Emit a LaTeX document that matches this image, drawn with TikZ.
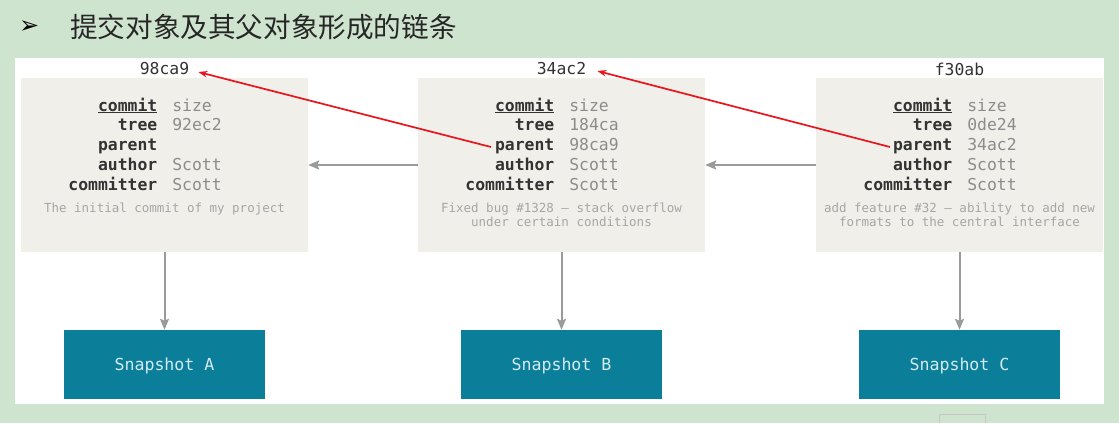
\documentclass[tikz,border=0pt]{standalone}
\usepackage{fontspec}
\setmonofont{DejaVu Sans Mono}
\newfontfamily\cjkfont{Noto Sans CJK SC}
\newfontfamily\symfont{DejaVu Sans}
\usetikzlibrary{arrows.meta,positioning}

\definecolor{slidegreen}{HTML}{CFE4CE}
\definecolor{commitfill}{HTML}{F0EFEA}
\definecolor{snapfill}{HTML}{0B7F99}
\definecolor{snaptext}{HTML}{D4EAF0}
\definecolor{arrowgray}{HTML}{9A9A9A}
\definecolor{fieldgray}{HTML}{8C8C8C}
\definecolor{msggray}{HTML}{A6A6A6}
\definecolor{labeldark}{HTML}{333333}
\definecolor{linkred}{HTML}{E8161C}

\tikzset{
  commitbox/.style={fill=commitfill,minimum width=287pt,minimum height=174pt,inner sep=0},
  snapbox/.style={fill=snapfill,text=snaptext,minimum width=201pt,minimum height=69pt,
    text depth=0pt,font=\ttfamily\fontsize{16.6}{20}\selectfont},
  hash/.style={text=labeldark,inner sep=0,font=\ttfamily\fontsize{16.4}{20}\selectfont},
  fields/.style={inner sep=0,font=\ttfamily\fontsize{16.4}{19.75}\selectfont},
  msg/.style={text=msggray,inner sep=0,align=center,font=\ttfamily\fontsize{12.5}{13.6}\selectfont},
  link/.style={draw=arrowgray,line width=2pt,-{Stealth[length=11pt,width=9pt,inset=2pt]}},
  parentlink/.style={draw=linkred,line width=1.7pt,-{Stealth[length=9pt,width=6.5pt]}}
}

\newcommand{\fld}[1]{\textbf{\textcolor{labeldark}{#1}}}
\newcommand{\val}[1]{\textcolor{fieldgray}{#1}}

\begin{document}
\begin{tikzpicture}[x=1pt,y=-1pt]
    \pgfmathsetmacro{\colA}{164.5}
    \pgfmathsetmacro{\colB}{561.5}
    \pgfmathsetmacro{\colC}{959.5}
    \pgfmathsetmacro{\boxmid}{165}
    \pgfmathsetmacro{\snapmid}{364.5}
    \pgfmathsetmacro{\fieldshift}{57.4}
    \fill[slidegreen] (0,0) rectangle (1119,423);
    \fill[white] (15,58) rectangle (1104,404);
    \draw[gray!45,line width=0.8pt] (939,423) -- (939,414) -- (985,414) -- (985,423);
    % heading
    \node[anchor=west,inner sep=0,text=black,font=\symfont\bfseries\fontsize{24}{26}\selectfont] (bullet) at (19,27) {➢};
    \node[anchor=west,inner sep=0,text=black!85,font=\cjkfont\fontsize{27.6}{30}\selectfont] (title) at (70,27) {提交对象及其父对象形成的链条};
    % commit objects
    \node[commitbox] (commitA) at (\colA,\boxmid) {};
    \node[commitbox] (commitB) at (\colB,\boxmid) {};
    \node[commitbox] (commitC) at (\colC,\boxmid) {};
    \node[hash] (hashA) at (\colA,69) {98ca9};
    \node[hash] (hashB) at (\colB,69) {34ac2};
    \node[hash] (hashC) at (\colC,69) {f30ab};
    \node[fields,anchor=north east] (fieldsA) at (\colA+\fieldshift,97) {%
      \begin{tabular}{@{}r@{\hspace{15pt}}l@{}}
        \fld{\underline{commit}} & \val{size}\\
        \fld{tree} & \val{92ec2}\\
        \fld{parent} & \val{\phantom{98ca9}}\\
        \fld{author} & \val{Scott}\\
        \fld{committer} & \val{Scott}
      \end{tabular}};
    \node[fields,anchor=north east] (fieldsB) at (\colB+\fieldshift,97) {%
      \begin{tabular}{@{}r@{\hspace{15pt}}l@{}}
        \fld{\underline{commit}} & \val{size}\\
        \fld{tree} & \val{184ca}\\
        \fld{parent} & \val{98ca9}\\
        \fld{author} & \val{Scott}\\
        \fld{committer} & \val{Scott}
      \end{tabular}};
    \node[fields,anchor=north east] (fieldsC) at (\colC+\fieldshift,97) {%
      \begin{tabular}{@{}r@{\hspace{15pt}}l@{}}
        \fld{\underline{commit}} & \val{size}\\
        \fld{tree} & \val{0de24}\\
        \fld{parent} & \val{34ac2}\\
        \fld{author} & \val{Scott}\\
        \fld{committer} & \val{Scott}
      \end{tabular}};
    \node[msg,anchor=north] (msgA) at (\colA,203) {The initial commit of my project};
    \node[msg,anchor=north] (msgB) at (\colB,203) {Fixed bug \#1328 – stack overflow\\under certain conditions};
    \node[msg,anchor=north] (msgC) at (\colC,203) {add feature \#32 – ability to add new\\formats to the central interface};
    % snapshots
    \node[snapbox] (snapA) at (\colA,\snapmid) {Snapshot A};
    \node[snapbox] (snapB) at (\colB,\snapmid) {Snapshot B};
    \node[snapbox] (snapC) at (\colC,\snapmid) {Snapshot C};
    \draw[link] (commitA) -- (snapA);
    \draw[link] (commitB) -- (snapB);
    \draw[link] (commitC) -- (snapC);
    \draw[link] (commitB) -- (commitA);
    \draw[link] (commitC) -- (commitB);
    % parent pointers
    \coordinate (parentB) at (491,147);
    \coordinate (parentC) at (890,147);
    \draw[parentlink] (parentB) -- ([shift={(9,3)}]hashA.east);
    \draw[parentlink] (parentC) -- ([shift={(11,2)}]hashB.east);
\end{tikzpicture}
\end{document}
